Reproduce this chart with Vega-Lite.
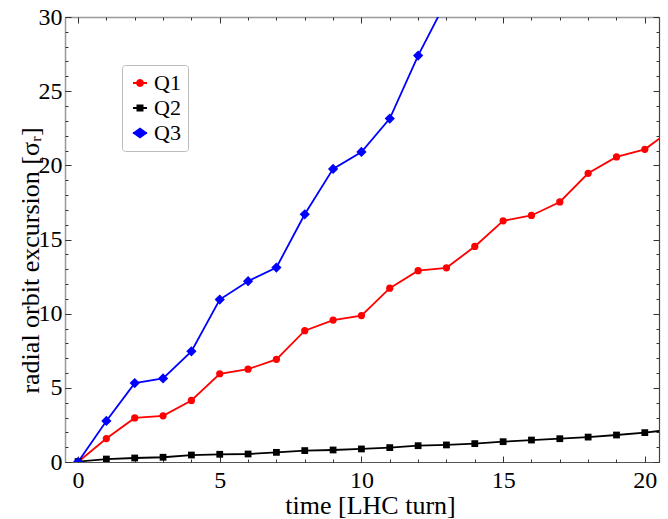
{
  "$schema": "https://vega.github.io/schema/vega-lite/v6.json",
  "width": 594,
  "height": 445,
  "autosize": {"type": "none"},
  "padding": {"left": 65, "top": 17, "right": 9, "bottom": 57},
  "background": "white",
  "config": {
    "view": {"stroke": null},
    "font": "Liberation Serif",
    "axis": {"grid": false, "labelFont": "Liberation Serif", "titleFont": "Liberation Serif", "labelColor": "#000", "titleColor": "#000", "titleFontWeight": "normal", "tickColor": "#333", "tickWidth": 1},
    "legend": {"orient": "none", "legendX": 57, "legendY": 48, "padding": 7, "fillColor": "white", "strokeColor": "#bbb", "cornerRadius": 3, "labelFont": "Liberation Serif", "labelFontSize": 22, "labelColor": "#000", "symbolSize": 196, "symbolStrokeWidth": 0, "symbolOpacity": 1, "rowPadding": 3, "labelOffset": 3, "title": null}
  },
  "data": {"values": [
    {"t": 0, "q": "Q1", "r": 0}, {"t": 1, "q": "Q1", "r": 1.58}, {"t": 2, "q": "Q1", "r": 2.97}, {"t": 3, "q": "Q1", "r": 3.11}, {"t": 4, "q": "Q1", "r": 4.15}, {"t": 5, "q": "Q1", "r": 5.95}, {"t": 6, "q": "Q1", "r": 6.26}, {"t": 7, "q": "Q1", "r": 6.92}, {"t": 8, "q": "Q1", "r": 8.85}, {"t": 9, "q": "Q1", "r": 9.57}, {"t": 10, "q": "Q1", "r": 9.87}, {"t": 11, "q": "Q1", "r": 11.72}, {"t": 12, "q": "Q1", "r": 12.9}, {"t": 13, "q": "Q1", "r": 13.09}, {"t": 14, "q": "Q1", "r": 14.53}, {"t": 15, "q": "Q1", "r": 16.26}, {"t": 16, "q": "Q1", "r": 16.62}, {"t": 17, "q": "Q1", "r": 17.53}, {"t": 18, "q": "Q1", "r": 19.46}, {"t": 19, "q": "Q1", "r": 20.57}, {"t": 20, "q": "Q1", "r": 21.08}, {"t": 21, "q": "Q1", "r": 22.5},
    {"t": 0, "q": "Q2", "r": 0.03}, {"t": 1, "q": "Q2", "r": 0.2}, {"t": 2, "q": "Q2", "r": 0.27}, {"t": 3, "q": "Q2", "r": 0.32}, {"t": 4, "q": "Q2", "r": 0.47}, {"t": 5, "q": "Q2", "r": 0.52}, {"t": 6, "q": "Q2", "r": 0.54}, {"t": 7, "q": "Q2", "r": 0.65}, {"t": 8, "q": "Q2", "r": 0.77}, {"t": 9, "q": "Q2", "r": 0.81}, {"t": 10, "q": "Q2", "r": 0.88}, {"t": 11, "q": "Q2", "r": 0.97}, {"t": 12, "q": "Q2", "r": 1.1}, {"t": 13, "q": "Q2", "r": 1.15}, {"t": 14, "q": "Q2", "r": 1.24}, {"t": 15, "q": "Q2", "r": 1.37}, {"t": 16, "q": "Q2", "r": 1.48}, {"t": 17, "q": "Q2", "r": 1.57}, {"t": 18, "q": "Q2", "r": 1.68}, {"t": 19, "q": "Q2", "r": 1.82}, {"t": 20, "q": "Q2", "r": 1.98}, {"t": 21, "q": "Q2", "r": 2.2},
    {"t": 0, "q": "Q3", "r": 0}, {"t": 1, "q": "Q3", "r": 2.77}, {"t": 2, "q": "Q3", "r": 5.32}, {"t": 3, "q": "Q3", "r": 5.63}, {"t": 4, "q": "Q3", "r": 7.46}, {"t": 5, "q": "Q3", "r": 10.95}, {"t": 6, "q": "Q3", "r": 12.19}, {"t": 7, "q": "Q3", "r": 13.11}, {"t": 8, "q": "Q3", "r": 16.7}, {"t": 9, "q": "Q3", "r": 19.76}, {"t": 10, "q": "Q3", "r": 20.9}, {"t": 11, "q": "Q3", "r": 23.15}, {"t": 12, "q": "Q3", "r": 27.4}, {"t": 13, "q": "Q3", "r": 31.1}
  ]},
  "resolve": {"axis": {"x": "independent", "y": "independent"}},
  "layer": [
    {
      "mark": {"type": "line", "strokeWidth": 1.8, "clip": true},
      "encoding": {
        "x": {"field": "t", "type": "quantitative", "scale": {"domain": [-0.46, 20.5], "nice": false, "zero": false},
          "axis": {"orient": "bottom", "values": [0, 5, 10, 15, 20], "ticks": false, "domain": true, "domainColor": "#555", "domainWidth": 1.2, "labelFontSize": 24, "labelPadding": 6, "labelFlush": false, "labelOverlap": false, "title": "time [LHC turn]", "titleFontSize": 26, "titleX": 305, "titleY": 51, "titleBaseline": "alphabetic", "titleAlign": "center", "titleAnchor": null}},
        "y": {"field": "r", "type": "quantitative", "scale": {"domain": [0, 30], "nice": false},
          "axis": {"orient": "left", "values": [0, 5, 10, 15, 20, 25, 30], "ticks": false, "domain": true, "domainColor": "#999", "domainWidth": 1.5, "labelFontSize": 24, "labelPadding": 3, "labelOverlap": false, "labelFlush": false, "title": "radial orbit excursion [σᵣ]", "titleFontSize": 26, "titleX": -27, "titleY": 243, "titleAngle": 270, "titleBaseline": "alphabetic", "titleAlign": "center", "titleAnchor": null}},
        "color": {"field": "q", "type": "nominal", "scale": {"domain": ["Q1", "Q2", "Q3"], "range": ["#ff0000", "#000000", "#0000ff"]}}
      }
    },
    {
      "transform": [{"filter": "datum.q === 'Q1'"}],
      "mark": {"type": "point", "shape": "circle", "size": 52, "filled": true, "opacity": 1, "clip": true},
      "encoding": {
        "x": {"field": "t", "type": "quantitative", "scale": {"domain": [-0.46, 20.5], "nice": false, "zero": false},
          "axis": {"orient": "top", "values": [0, 5, 10, 15, 20], "labels": false, "title": null, "domain": true, "domainColor": "#999", "domainWidth": 1.5, "tickSize": -6}},
        "y": {"field": "r", "type": "quantitative", "scale": {"domain": [0, 30], "nice": false},
          "axis": {"orient": "right", "values": [0, 5, 10, 15, 20, 25, 30], "labels": false, "title": null, "domain": true, "domainColor": "#444", "domainWidth": 1.2, "tickSize": -6}},
        "color": {"field": "q", "type": "nominal", "scale": {"domain": ["Q1", "Q2", "Q3"], "range": ["#ff0000", "#000000", "#0000ff"]}}
      }
    },
    {
      "transform": [{"filter": "datum.q === 'Q2'"}],
      "mark": {"type": "point", "shape": "square", "size": 46, "filled": true, "opacity": 1, "clip": true},
      "encoding": {
        "x": {"field": "t", "type": "quantitative", "scale": {"domain": [-0.46, 20.5], "nice": false, "zero": false}, "axis": null},
        "y": {"field": "r", "type": "quantitative", "scale": {"domain": [0, 30], "nice": false}, "axis": null},
        "color": {"field": "q", "type": "nominal", "scale": {"domain": ["Q1", "Q2", "Q3"], "range": ["#ff0000", "#000000", "#0000ff"]}}
      }
    },
    {
      "transform": [{"filter": "datum.q === 'Q3'"}],
      "mark": {"type": "point", "shape": "diamond", "size": 105, "filled": true, "opacity": 1, "clip": true},
      "encoding": {
        "x": {"field": "t", "type": "quantitative", "scale": {"domain": [-0.46, 20.5], "nice": false, "zero": false}, "axis": null},
        "y": {"field": "r", "type": "quantitative", "scale": {"domain": [0, 30], "nice": false}, "axis": null},
        "color": {"field": "q", "type": "nominal", "scale": {"domain": ["Q1", "Q2", "Q3"], "range": ["#ff0000", "#000000", "#0000ff"]}}
      }
    },
    {
      "mark": {"type": "point", "opacity": 0},
      "encoding": {
        "x": {"field": "t", "type": "quantitative", "scale": {"domain": [-0.46, 20.5], "nice": false, "zero": false},
          "axis": {"orient": "bottom", "values": [0, 5, 10, 15, 20], "labels": false, "title": null, "domain": false, "tickSize": -6}},
        "y": {"field": "r", "type": "quantitative", "scale": {"domain": [0, 30], "nice": false},
          "axis": {"orient": "left", "values": [0, 5, 10, 15, 20, 25, 30], "labels": false, "title": null, "domain": false, "tickSize": -6}}
      }
    },
    {
      "mark": {"type": "point", "opacity": 0},
      "encoding": {
        "x": {"field": "t", "type": "quantitative", "scale": {"domain": [-0.46, 20.5], "nice": false, "zero": false},
          "axis": {"orient": "top", "values": [0, 1, 2, 3, 4, 5, 6, 7, 8, 9, 10, 11, 12, 13, 14, 15, 16, 17, 18, 19, 20], "labels": false, "title": null, "domain": false, "tickSize": -3}},
        "y": {"field": "r", "type": "quantitative", "scale": {"domain": [0, 30], "nice": false},
          "axis": {"orient": "right", "values": [0, 1, 2, 3, 4, 5, 6, 7, 8, 9, 10, 11, 12, 13, 14, 15, 16, 17, 18, 19, 20, 21, 22, 23, 24, 25, 26, 27, 28, 29, 30], "labels": false, "title": null, "domain": false, "tickSize": -3}}
      }
    },
    {
      "mark": {"type": "point", "opacity": 0},
      "encoding": {
        "x": {"field": "t", "type": "quantitative", "scale": {"domain": [-0.46, 20.5], "nice": false, "zero": false},
          "axis": {"orient": "bottom", "values": [0, 1, 2, 3, 4, 5, 6, 7, 8, 9, 10, 11, 12, 13, 14, 15, 16, 17, 18, 19, 20], "labels": false, "title": null, "domain": false, "tickSize": -3}},
        "y": {"field": "r", "type": "quantitative", "scale": {"domain": [0, 30], "nice": false},
          "axis": {"orient": "left", "values": [0, 1, 2, 3, 4, 5, 6, 7, 8, 9, 10, 11, 12, 13, 14, 15, 16, 17, 18, 19, 20, 21, 22, 23, 24, 25, 26, 27, 28, 29, 30], "labels": false, "title": null, "domain": false, "tickSize": -3}}
      }
    },
    {
      "mark": {"type": "point", "filled": true, "opacity": 0},
      "encoding": {
        "x": {"field": "t", "type": "quantitative", "scale": {"domain": [-0.46, 20.5], "nice": false, "zero": false}, "axis": null},
        "y": {"field": "r", "type": "quantitative", "scale": {"domain": [0, 30], "nice": false}, "axis": null},
        "color": {"field": "q", "type": "nominal", "scale": {"domain": ["Q1", "Q2", "Q3"], "range": ["#ff0000", "#000000", "#0000ff"]}},
        "shape": {"field": "q", "type": "nominal", "scale": {"domain": ["Q1", "Q2", "Q3"], "range": ["M-1,-0.13 L1,-0.13 L1,0.13 L-1,0.13 Z M0.57,0 L0.494,0.285 L0.285,0.494 L0,0.57 L-0.285,0.494 L-0.494,0.285 L-0.57,0 L-0.494,-0.285 L-0.285,-0.494 L0,-0.57 L0.285,-0.494 L0.494,-0.285 Z", "M-1,-0.13 L1,-0.13 L1,0.13 L-1,0.13 Z M-0.5,-0.5 L0.5,-0.5 L0.5,0.5 L-0.5,0.5 Z", "M-1,-0.13 L1,-0.13 L1,0.13 L-1,0.13 Z M-1.1,0 L0,-0.8 L1.1,0 L0,0.8 Z"]}}
      }
    }
  ]
}
